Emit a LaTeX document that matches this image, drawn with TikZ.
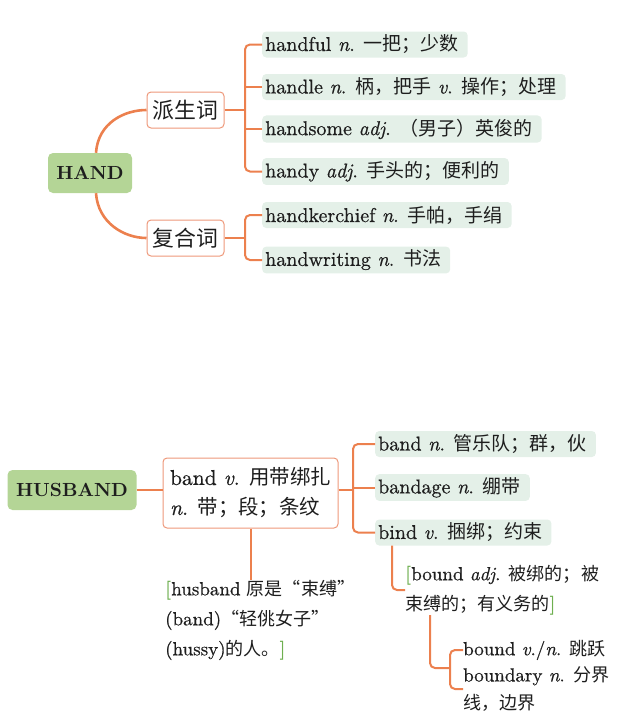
\documentclass[tikz,border=0pt]{standalone}
\usepackage{fontspec}
\setmainfont{lmroman10-regular.otf}[BoldFont=lmroman10-bold.otf, ItalicFont=lmroman10-italic.otf, UprightFeatures={FakeBold=0.6}, ItalicFeatures={FakeBold=0.6}]
\newfontfamily\cjk[Scale=0.95]{Noto Sans CJK SC}
\newcommand{\zh}[1]{{\cjk #1}}
\definecolor{branch}{RGB}{236,128,78}
\definecolor{rootfill}{RGB}{180,213,150}
\definecolor{leaffill}{RGB}{228,240,232}
\definecolor{boxline}{RGB}{238,152,122}
\definecolor{bracketgreen}{RGB}{110,175,80}
\definecolor{ink}{RGB}{30,30,30}
\newcommand{\lb}{\textcolor{bracketgreen}{\bfseries[}}
\newcommand{\rb}{\textcolor{bracketgreen}{\bfseries]}}

\begin{document}
\begin{tikzpicture}[x=1pt,y=-1pt,
    root/.style={rounded corners=5pt, fill=rootfill, text=ink, font=\fontsize{19}{22}\selectfont\bfseries, minimum height=40pt},
    group/.style={rounded corners=4pt, draw=boxline, line width=1pt, fill=white, text=ink, font=\fontsize{23}{26}\selectfont, minimum height=36pt, minimum width=77pt},
    leaf/.style={rounded corners=4pt, fill=leaffill, text=ink, anchor=west, font=\fontsize{20}{22}\selectfont, minimum height=26pt, inner xsep=3pt, execute at end node=\hspace{6pt}},
    note/.style={anchor=west, text=ink, align=left, font=\fontsize{19}{30}\selectfont, inner sep=0pt},
    link/.style={draw=branch, line width=2pt, rounded corners=5pt},
    ]
    \useasboundingbox (0,0) rectangle (640,724);
    % HAND
    \node[root, minimum width=84pt] (hand) at (90,173) {HAND};
    \node[group] (pai) at (185.5,110) {\zh{派生词}};
    \node[group] (fu) at (185.5,238) {\zh{复合词}};
    \node[leaf] (h1) at (262,44.5) {handful \textit{n}. \zh{一把；少数}};
    \node[leaf] (h2) at (262,87) {handle \textit{n}. \zh{柄，把手} \textit{v}. \zh{操作；处理}};
    \node[leaf] (h3) at (262,129) {handsome \textit{adj}. \zh{（男子）英俊的}};
    \node[leaf] (h4) at (262,171.5) {handy \textit{adj}. \zh{手头的；便利的}};
    \node[leaf] (h5) at (262,215) {handkerchief \textit{n}. \zh{手帕，手绢}};
    \node[leaf] (h6) at (262,260) {handwriting \textit{n}. \zh{书法}};
    \coordinate (j1) at (245,110);
    \coordinate (j2) at (245,238);

    \draw[link, line width=2.6pt] ([xshift=6pt]hand.north) .. controls +(2,-30) and +(-22,0) .. (pai.west); % upper arm
    \draw[link, line width=2.6pt] ([xshift=6pt]hand.south) .. controls +(2,30) and +(-22,0) .. (fu.west); % lower arm
    \draw[link] (pai.east) -- (j1);
    \draw[link] (h1.west) -| (j1) |- (h4.west);
    \draw[link] (h2.west) -- (h2.west -| j1);
    \draw[link] (h3.west) -- (h3.west -| j1);
    \draw[link] (fu.east) -- (j2);
    \draw[link] (h5.west) -| (j2) |- (h6.west);

    % HUSBAND
    \node[root, minimum width=129pt] (husband) at (72,490) {HUSBAND};
    \node[group, align=left, minimum width=175pt, minimum height=70pt, font=\fontsize{21.5}{30}\selectfont] (band) at (250.5,493) {band \textit{v}. \zh{用带绑扎}\\\textit{n}. \zh{带；段；条纹}};
    \node[note] (origin) at (165,620) {\lb husband \zh{原是“束缚”}\\(band)\zh{“轻佻女子”}\\(hussy)\zh{的人。}\rb};
    \node[leaf] (b1) at (375,444) {band \textit{n}. \zh{管乐队；群，伙}};
    \node[leaf] (b2) at (375,487.5) {bandage \textit{n}. \zh{绷带}};
    \node[leaf] (b3) at (375,532.5) {bind \textit{v}. \zh{捆绑；约束}};
    \node[note] (bound) at (405,590) {\lb bound \textit{adj}. \zh{被绑的；被}\\\zh{束缚的；有义务的}\rb};
    \node[note] (v1) at (463,650) {bound \textit{v}./\textit{n}. \zh{跳跃}};
    \node[note, font=\fontsize{19}{28}\selectfont] (v2) at (463,689) {boundary \textit{n}. \zh{分界}\\\zh{线，边界}};
    \coordinate (j3) at (353,490);
    \coordinate (j4) at (450,668);

    \draw[link] (husband.east) -- (band.west |- husband.east);
    \draw[link] (band.south) -- (origin.north -| band.south);
    \draw[link] (band.east |- j3) -- (j3);
    \draw[link] (b1.west) -| (j3) |- (b3.west);
    \draw[link] (b2.west) -- (b2.west -| j3);
    \draw[link] ([xshift=17pt]b3.south west) |- (bound.west);
    \draw[link] ([xshift=25pt]bound.south west) |- (j4);
    \draw[link] (v1.west) -| (j4) |- (v2.west);
\end{tikzpicture}
\end{document}
